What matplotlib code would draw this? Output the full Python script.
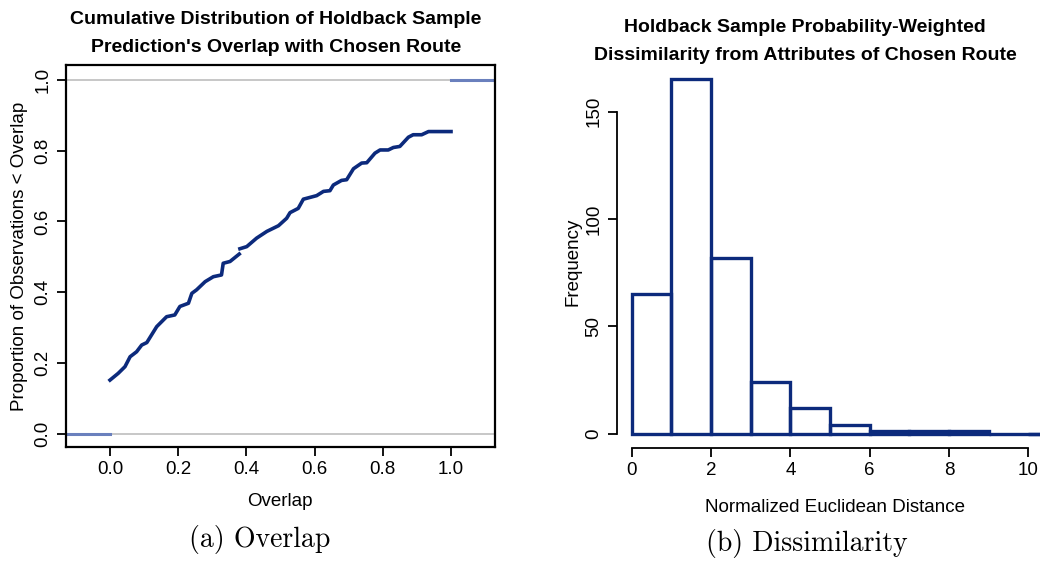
import matplotlib.pyplot as plt
import numpy as np

plt.rcParams['font.family'] = ['Liberation Sans', 'DejaVu Sans']

# ECDF of holdback overlap (two pieces, small gap near 0.38)
overlap_a = [0.0, 0.024, 0.044, 0.059, 0.078, 0.093, 0.108, 0.137, 0.166, 0.19,
             0.205, 0.23, 0.24, 0.254, 0.279, 0.303, 0.327, 0.332, 0.352, 0.379]
prop_a = [0.152, 0.171, 0.19, 0.218, 0.232, 0.251, 0.258, 0.303, 0.331, 0.336,
          0.36, 0.369, 0.397, 0.407, 0.43, 0.444, 0.449, 0.482, 0.487, 0.508]
overlap_b = [0.381, 0.401, 0.43, 0.46, 0.494, 0.518, 0.528, 0.552, 0.567, 0.606,
             0.626, 0.645, 0.655, 0.679, 0.694, 0.714, 0.738, 0.753, 0.777, 0.792,
             0.816, 0.831, 0.85, 0.875, 0.889, 0.914, 0.934, 1.0]
prop_b = [0.523, 0.529, 0.553, 0.572, 0.588, 0.609, 0.625, 0.637, 0.663, 0.673,
          0.685, 0.687, 0.703, 0.716, 0.718, 0.749, 0.765, 0.766, 0.793, 0.802,
          0.802, 0.809, 0.812, 0.838, 0.845, 0.845, 0.854, 0.854]
ecdf_lo, ecdf_hi = 0.0, 1.0

# histogram of normalized euclidean distance
bin_edges = [0, 1, 2, 3, 4, 5, 6, 7, 8, 9, 10, 11]
counts = [65, 165, 82, 24, 12, 4, 1, 1, 1, 0, 0]

navy = '#0c2a7c'
light = '#6a80bd'
W, H = 1040, 561

fig = plt.figure(figsize=(W / 100, H / 100), dpi=100)

# ---- left: ECDF ----
ax1 = fig.add_axes([66 / W, 1 - 447 / H, (495 - 66) / W, (447 - 65) / H])
xl = (-0.129, 1.129)
ax1.set_xlim(xl)
ax1.set_ylim(-0.037, 1.042)
ax1.axhline(0, color='#bdbdbd', lw=1.2, zorder=1)
ax1.axhline(1, color='#bdbdbd', lw=1.2, zorder=1)
ax1.plot([xl[0], overlap_a[0]], [ecdf_lo, ecdf_lo], color=light, lw=2.2, zorder=2)
ax1.plot([overlap_b[-1], xl[1]], [ecdf_hi, ecdf_hi], color=light, lw=2.2, zorder=2)
ax1.plot(overlap_a, prop_a, color=navy, lw=2.6, zorder=3)
ax1.plot(overlap_b, prop_b, color=navy, lw=2.6, zorder=3)
ax1.set_xticks(np.arange(0, 1.01, 0.2))
ax1.set_xticklabels(['0.0', '0.2', '0.4', '0.6', '0.8', '1.0'])
ax1.set_yticks(np.arange(0, 1.01, 0.2))
ax1.set_yticklabels(['0.0', '0.2', '0.4', '0.6', '0.8', '1.0'])
for s in ax1.spines.values():
    s.set_linewidth(1.6)
ax1.tick_params(direction='out', length=6.5, width=1.3, labelsize=13.5, pad=3.5)
ax1.tick_params(axis='y', labelrotation=90, pad=4)
for lab in ax1.get_yticklabels():
    lab.set_va('center')

# ---- right: histogram ----
ax2 = fig.add_axes([617 / W, 1 - 447.8 / H, (1085 - 617) / W, (447.8 - 65.3) / H])
ax2.bar(bin_edges[:-1], counts, width=1, align='edge', fill=False,
        edgecolor=navy, linewidth=2.4, zorder=3)
ax2.set_xlim(-0.371, 11.43)
ax2.set_ylim(-6.6, 171.6)
ax2.set_xticks([0, 2, 4, 6, 8, 10])
ax2.set_yticks([0, 50, 100, 150])
ax2.spines['top'].set_visible(False)
ax2.spines['right'].set_visible(False)
ax2.spines['left'].set_bounds(0, 150)
ax2.spines['bottom'].set_bounds(0, 10)
for s in ['left', 'bottom']:
    ax2.spines[s].set_linewidth(1.3)
ax2.tick_params(direction='out', length=6.5, width=1.3, labelsize=13.5, pad=3.5)
ax2.tick_params(axis='y', labelrotation=90, pad=4)
for lab in ax2.get_yticklabels():
    lab.set_va('center')

# ---- titles and labels ----
def ft(x, y, s, **kw):
    fig.text(x / W, 1 - y / H, s, ha='center', va='center', **kw)

tfont = dict(fontsize=14, fontweight='bold')
ft(276, 20, 'Cumulative Distribution of Holdback Sample', **tfont)
ft(276, 48, "Prediction's Overlap with Chosen Route", **tfont)
ft(805, 28, 'Holdback Sample Probability-Weighted', **tfont)
ft(805, 55, 'Dissimilarity from Attributes of Chosen Route', **tfont)

ft(280, 502, 'Overlap', fontsize=13.5)
ft(20, 256, 'Proportion of Observations < Overlap', fontsize=13.5, rotation=90)
ft(835, 508, 'Normalized Euclidean Distance', fontsize=13.5)
ft(573, 262, 'Frequency', fontsize=13.5, rotation=90)

ft(260, 540, '(a) Overlap', fontsize=20, family='cmr10')
ft(807, 543, '(b) Dissimilarity', fontsize=20, family='cmr10')

fig.savefig('out.png', dpi=100)
